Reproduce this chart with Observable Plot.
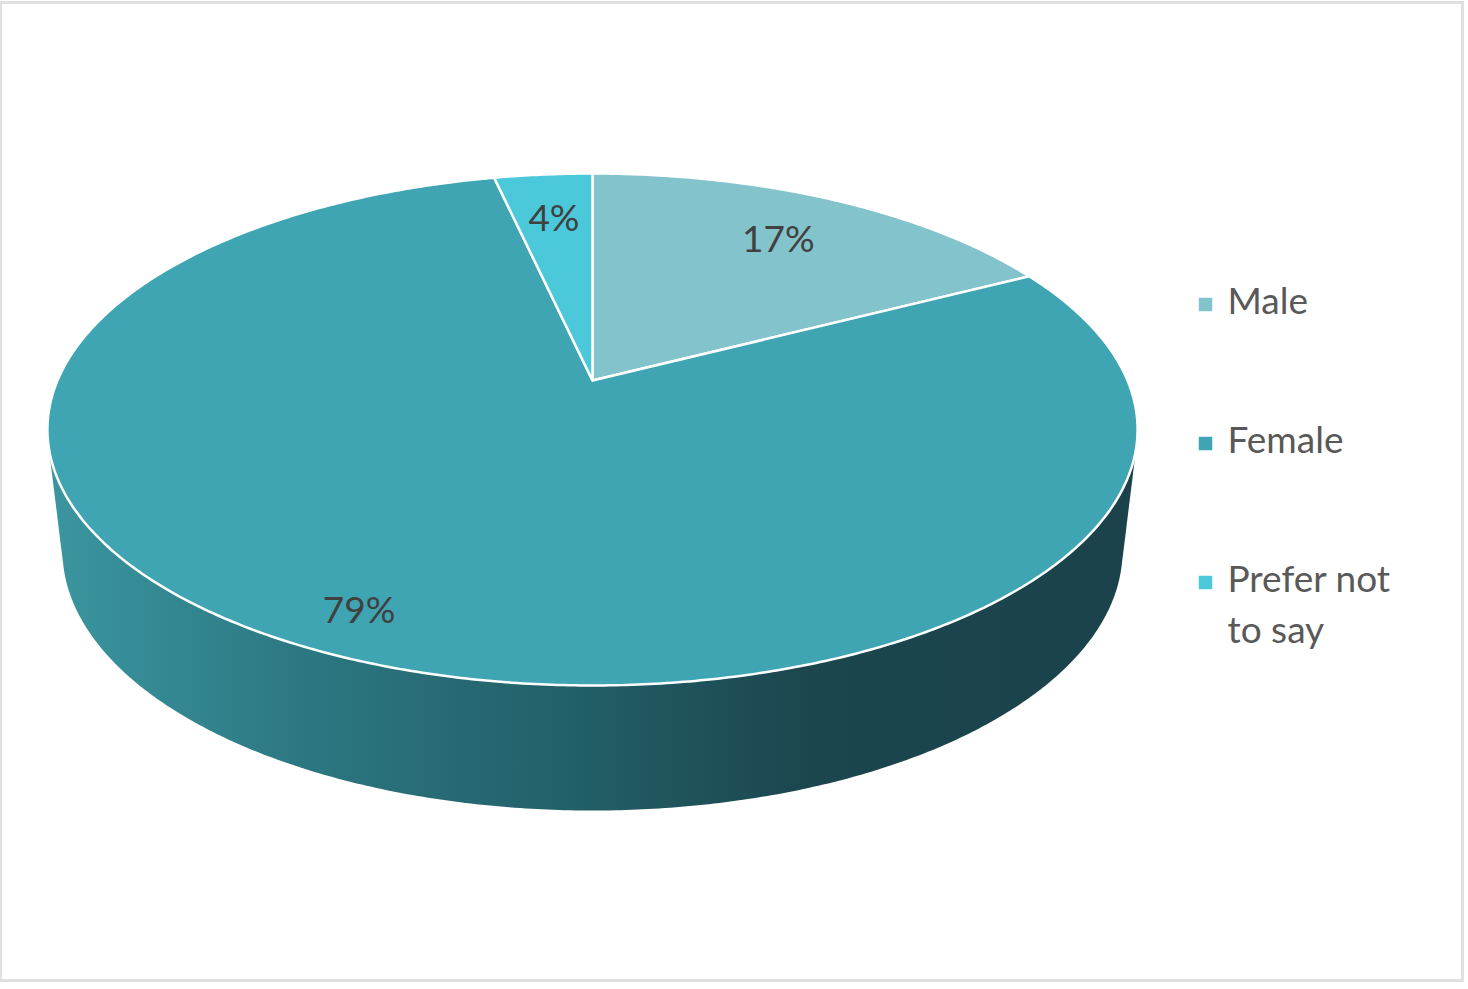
<!DOCTYPE html>
<html>
<head>
<meta charset="utf-8">
<script src="https://cdn.jsdelivr.net/npm/d3@7"></script>
<script src="https://cdn.jsdelivr.net/npm/@observablehq/plot@0.6"></script>
<style>
html, body { margin: 0; padding: 0; background: #ffffff; }
#wrap { position: relative; width: 1468px; height: 989px; overflow: hidden; }
#chart { position: absolute; left: 0; top: 0; }
#border { position: absolute; left: -1px; top: 1px; width: 1465px; height: 981px; box-sizing: border-box;
  border: 3px solid #e0e0e0; pointer-events: none; }
</style>
</head>
<body>
<div id="wrap"><div id="chart"></div><div id="border"></div></div>
<script>
// ---- data ----
const categories = ["Male", "Female", "Prefer not to say"];
const shares = [17.4, 79.1, 3.5];               // percent of respondents
const sliceColors = ["#83c4cc", "#3fa5b3", "#4bc9db"];
const legendLines = [["Male"], ["Female"], ["Prefer not", "to say"]];

// ---- 3D perspective geometry (layout) ----
const W = 1468, H = 989;
const G = {cx: 592, cy: 380, A: 535, B: 246.6, p: 0.1914, q: 0.0274, B2: 234.5, D: 125};
function proj(theta, r, bottom) {
  const X = r * Math.sin(theta), Z = r * Math.cos(theta);
  if (!bottom) {
    const w = 1 + G.p * Z;
    return [G.cx + G.A * X / w, G.cy - G.B * Z / w];
  }
  const w = 1 + G.p * Z + G.q;
  return [G.cx + G.A * X / w, G.cy + (-G.B2 * Z + G.D) / w];
}

const total = d3.sum(shares);
let acc = 0;
const slices = categories.map((name, i) => {
  const a0 = acc / total * 2 * Math.PI;
  acc += shares[i];
  const a1 = acc / total * 2 * Math.PI;
  return {name, value: shares[i], color: sliceColors[i], a0, a1};
});

// top face polygons
const topRows = [];
for (const s of slices) {
  const c = proj(0, 0, false);
  topRows.push({name: s.name, color: s.color, x: c[0], y: c[1]});
  const n = Math.max(4, Math.ceil((s.a1 - s.a0) / (Math.PI / 360)));
  for (let k = 0; k <= n; k++) {
    const t = s.a0 + (s.a1 - s.a0) * k / n;
    const pt = proj(t, 1, false);
    topRows.push({name: s.name, color: s.color, x: pt[0], y: pt[1]});
  }
}

// side silhouette: hull of top and bottom rims
const rimPts = [];
for (let k = 0; k < 720; k++) {
  const t = k / 720 * 2 * Math.PI;
  rimPts.push(proj(t, 1, false), proj(t, 1, true));
}
const hull = d3.polygonHull(rimPts);
const hx = d3.extent(hull, d => d[0]);

// labels
const labelRows = slices.map(s => {
  const mid = (s.a0 + s.a1) / 2;
  const r = s.value > 50 ? 0.875 : 0.75;
  const pt = proj(mid, r, false);
  return {x: pt[0], y: pt[1], text: Math.round(s.value) + "%"};
});

// legend
const legX = 1205, legY0 = 304, legStep = 139;
const legendSquares = categories.map((c, i) => ({x: legX, y: legY0 + i * legStep, color: sliceColors[i]}));
const legendTexts = legendLines.flatMap((lines, i) =>
  lines.map((t, j) => ({x: legX + 22, y: legY0 - 2 + i * legStep + j * 51, text: t})));

function gradientDefs(index, scales) {
  const ns = "http://www.w3.org/2000/svg";
  const defs = document.createElementNS(ns, "defs");
  const g = document.createElementNS(ns, "linearGradient");
  g.setAttribute("id", "sideGrad");
  g.setAttribute("gradientUnits", "userSpaceOnUse");
  g.setAttribute("x1", scales.x(hx[0]));
  g.setAttribute("x2", scales.x(hx[1]));
  g.setAttribute("y1", 0);
  g.setAttribute("y2", 0);
  const stops = [[0, "#3b96a0"], [0.23, "#2c7882"], [0.5, "#225d66"], [0.7, "#1b464e"], [1, "#1b424a"]];
  for (const [o, c] of stops) {
    const st = document.createElementNS(ns, "stop");
    st.setAttribute("offset", o);
    st.setAttribute("stop-color", c);
    g.appendChild(st);
  }
  defs.appendChild(g);
  const wrapG = document.createElementNS(ns, "g");
  wrapG.appendChild(defs);
  return wrapG;
}

const chart = Plot.plot({
  width: W,
  height: H,
  margin: 0,
  x: {domain: [0, W], range: [0, W], axis: null},
  y: {domain: [0, H], range: [0, H], axis: null},
  color: {type: "identity"},
  style: {fontFamily: "Lato, 'Open Sans', sans-serif", background: "transparent"},
  marks: [
    gradientDefs,
    Plot.line(hull, {x: d => d[0], y: d => d[1], fill: "url(#sideGrad)", stroke: "none", curve: "linear-closed"}),
    Plot.line(topRows, {x: "x", y: "y", z: "name", fill: d => d.color, stroke: "#ffffff", strokeWidth: 2.5,
      strokeLinejoin: "round", curve: "linear-closed"}),
    Plot.text(labelRows, {x: "x", y: "y", text: "text", fontSize: 37, fill: "#404040"}),
    Plot.dot(legendSquares, {x: "x", y: "y", symbol: "square", r: 7.6, fill: d => d.color, stroke: null}),
    Plot.text(legendTexts, {x: "x", y: "y", text: "text", textAnchor: "start", fontSize: 37, fill: "#595959"})
  ]
});
document.getElementById("chart").appendChild(chart);
</script>
</body>
</html>
